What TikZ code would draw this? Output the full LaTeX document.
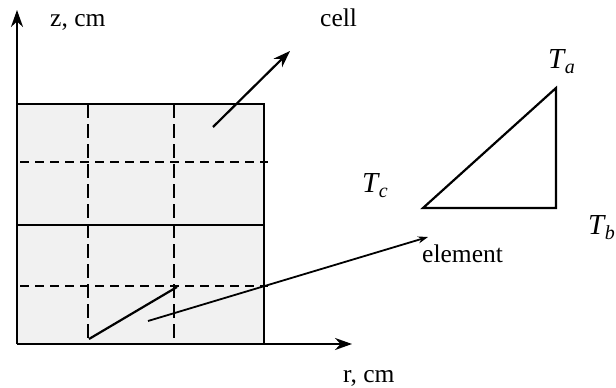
\documentclass[tikz,border=0pt]{standalone}
\usepackage{fontspec}
\setmainfont{Liberation Serif}
\usetikzlibrary{arrows.meta}
\tikzset{
  lbl/.style={anchor=base west, inner sep=0pt, font=\fontsize{25.5}{30}\selectfont},
  tlbl/.style={anchor=base west, inner sep=0pt, font=\fontsize{29}{34}\selectfont\itshape},
  axis/.style={line width=2.4pt, -{Stealth[length=17pt,width=12pt]}},
  frame/.style={line width=2.6pt},
  vgrid/.style={line width=2.2pt, dash pattern=on 14pt off 6pt},
  hgrid/.style={line width=2.2pt, dash pattern=on 9pt off 6pt},
  thin/.style={line width=2.2pt},
}
\newcommand{\Tlab}[2]{T\kern0.5pt\raisebox{-5pt}{\fontsize{20}{24}\selectfont\itshape #2}}
\begin{document}
\begin{tikzpicture}[x=1pt,y=-1pt]
\useasboundingbox (0,0) rectangle (616,388);
% shaded area
\fill[gray!11] (18,104) rectangle (264,344);
% grid dashed lines
\draw[vgrid] (88,104) -- (88,344);
\draw[vgrid] (174,104) -- (174,344);
\draw[hgrid] (20,162) -- (268,162);
\draw[hgrid] (20,286) -- (268,286);
% frame
\draw[frame] (18,104) -- (264,104) -- (264,344);
\draw[frame] (18,225) -- (264,225);
% axes
\coordinate (O) at (17,344);
\coordinate (ztip) at (17,10);
\coordinate (rtip) at (352,344);
\draw[axis] (O) -- (ztip);
\draw[axis] (O) -- (rtip);
\node[lbl] (zl) at (50,27) {z, cm};
\node[lbl] (rl) at (343,382) {r, cm};
% cell arrow
\coordinate (c0) at (213,127);
\coordinate (c1) at (290,51);
\draw[thin, -{Stealth[length=17pt,width=12pt]}] (c0) -- (c1);
\node[lbl] (cl) at (320,27) {cell};
% element
\coordinate (e1) at (89,339);
\coordinate (e2) at (177,287);
\draw[thin] (e1) -- (e2);
\coordinate (s0) at (148,321);
\coordinate (s1) at (428,237);
\draw[line width=1.8pt, -{Stealth[length=10pt,width=7pt]}] (s0) -- (s1);
\node[lbl] (el) at (422,262) {element};
% triangle
\coordinate (Tc) at (423,208);
\coordinate (Ta) at (556,88);
\coordinate (Tb) at (556,208);
\draw[thin, line join=miter] (Tc) -- (Ta) -- (Tb) -- cycle;
\node[tlbl] (la) at (548,68) {\Tlab{T}{a}};
\node[tlbl] (lc) at (362,192) {\Tlab{T}{c}};
\node[tlbl] (lb) at (588,234) {\Tlab{T}{b}};
\end{tikzpicture}
\end{document}
